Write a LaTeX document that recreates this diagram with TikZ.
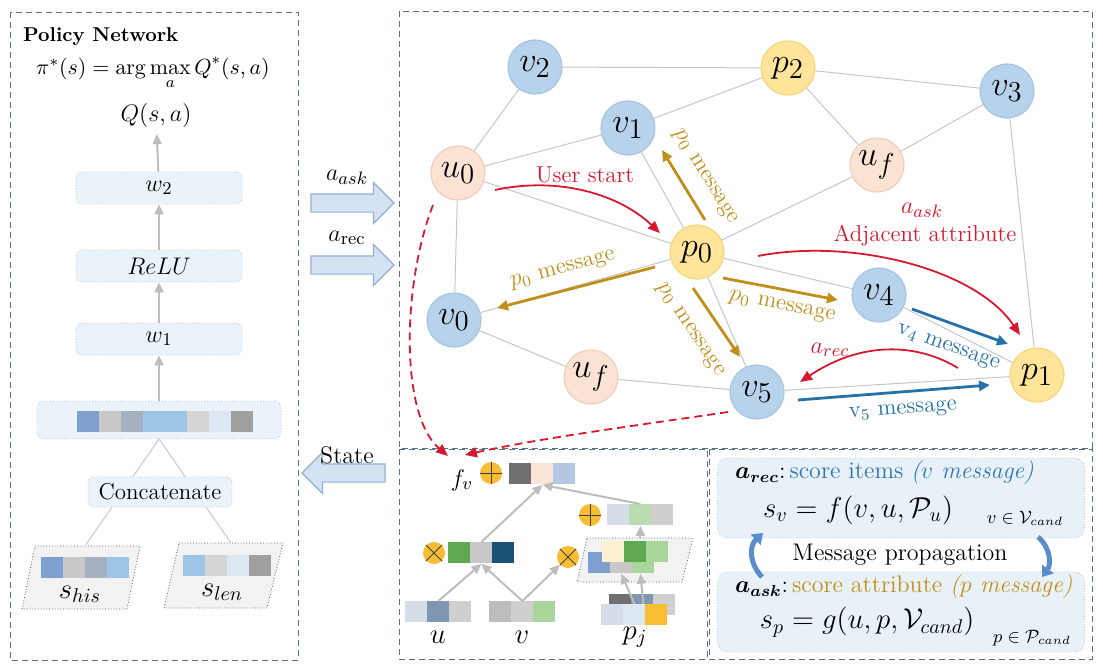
\documentclass[tikz,border=0pt]{standalone}
\usepackage{amsmath}
\usepackage{amssymb}
\usepackage{tikz}
\usetikzlibrary{positioning,shapes.geometric,shapes.arrows,arrows.meta}

\definecolor{panelline}{HTML}{5E6E84}
\definecolor{layerfill}{HTML}{EAF3FA}
\definecolor{layerline}{HTML}{AFC2D4}
\definecolor{scorefill}{HTML}{E9F1F8}
\definecolor{flowgray}{HTML}{BDBDBD}
\definecolor{feedgray}{HTML}{CFCFCF}
\definecolor{linkgray}{HTML}{C6C6C6}
\definecolor{arrowfill}{HTML}{D5E2F3}
\definecolor{arrowline}{HTML}{94AFD6}
\definecolor{itemblue}{HTML}{B7D3EC}
\definecolor{itemline}{HTML}{A6C5E2}
\definecolor{userpeach}{HTML}{FBE3D4}
\definecolor{userline}{HTML}{F2CDBA}
\definecolor{attryellow}{HTML}{FFE49A}
\definecolor{attrline}{HTML}{F5D67C}
\definecolor{msggold}{HTML}{BF8F1A}
\definecolor{msgblue}{HTML}{2472A8}
\definecolor{actred}{HTML}{D7192F}
\definecolor{scoreblue}{HTML}{2E75B6}
\definecolor{propblue}{HTML}{5B8DCB}
\definecolor{cshade}{HTML}{F2F2F2}
% vector cells
\definecolor{cblue}{HTML}{7F9FD0}
\definecolor{cgray}{HTML}{C8C8C8}
\definecolor{cslate}{HTML}{A5B0C0}
\definecolor{csky}{HTML}{9EC5E5}
\definecolor{clgray}{HTML}{D5D5D5}
\definecolor{cpale}{HTML}{DDE8F3}
\definecolor{cdgray}{HTML}{A0A0A0}
\definecolor{cdark}{HTML}{707070}
\definecolor{cpeach}{HTML}{FBE5D6}
\definecolor{cmist}{HTML}{B4C8E4}
\definecolor{cfog}{HTML}{D5DDE8}
\definecolor{cmint}{HTML}{B9DCB0}
\definecolor{csilver}{HTML}{CFCFCF}
\definecolor{cgreen}{HTML}{5EA850}
\definecolor{cnavy}{HTML}{1A5276}
\definecolor{ccream}{HTML}{FDF0D0}
\definecolor{clgreen}{HTML}{A9D69B}
\definecolor{csteel}{HTML}{7F97B3}
\definecolor{cstone}{HTML}{BDBDBD}
\definecolor{corange}{HTML}{F9BD33}

\tikzset{
  panel/.style={draw=panelline,line width=0.5pt,dash pattern=on 3pt off 2pt},
  layer/.style={draw=layerline,densely dotted,fill=layerfill,rounded corners=3pt,minimum width=83pt,minimum height=16pt,inner sep=1pt},
  slantbox/.style={draw=black!65,densely dotted,fill=cshade},
  flow/.style={draw=flowgray,line width=1pt,-{Triangle[length=5pt,width=4.5pt]}},
  feed/.style={draw=feedgray,line width=0.6pt},
  blockarrow/.style={single arrow,single arrow head extend=5.75pt,single arrow head indent=0pt,minimum height=41.5pt,inner sep=4.25pt,fill=arrowfill,draw=arrowline,line width=0.6pt},
  item/.style={circle,minimum size=27pt,inner sep=0pt,fill=itemblue,draw=itemline,line width=0.6pt,font=\fontsize{19}{22}\selectfont},
  user/.style={item,fill=userpeach,draw=userline},
  attr/.style={item,fill=attryellow,draw=attrline},
  link/.style={draw=linkgray,line width=0.5pt},
  goldmsg/.style={draw=msggold,line width=1.4pt,-{Triangle[length=5.5pt,width=5pt]}},
  bluemsg/.style={draw=msgblue,line width=1.4pt,-{Triangle[length=5.5pt,width=5pt]}},
  act/.style={draw=actred,line width=0.9pt,-{Triangle[length=6pt,width=5pt]}},
  actdash/.style={act,dash pattern=on 4pt off 2.5pt},
  msgtext/.style={font=\fontsize{11.5}{13}\selectfont,inner sep=0pt},
  opcirc/.style={circle,fill=corange,minimum size=11pt,inner sep=0pt},
  opline/.style={draw=black!75,line width=0.5pt},
  scorebox/.style={draw=layerline,densely dotted,fill=scorefill,rounded corners=5pt,minimum width=183.5pt,minimum height=40pt},
  propagate/.style={draw=propblue,line width=2.5pt,-{Triangle[length=5pt,width=7pt]}},
}

% a row of coloured cells, #1 name, #2 top left, #3 count, #4 colours
\newcommand{\cells}[4]{%
  \node[inner sep=0pt,minimum width=#3*11pt,minimum height=10.5pt,anchor=north west] (#1) at (#2) {};
  \foreach \cl [count=\i from 0] in {#4}
    \fill[\cl] ([xshift=\i*11pt]#1.north west) rectangle ++(22,21);
}
\newcommand{\addop}[2]{%
  \node[opcirc] (#1) at (#2) {};
  \draw[opline] (#1.north) -- (#1.south) (#1.west) -- (#1.east);
}
\newcommand{\mulop}[2]{%
  \node[opcirc] (#1) at (#2) {};
  \draw[opline] (#1.north west) -- (#1.south east) (#1.north east) -- (#1.south west);
}

\begin{document}
\begin{tikzpicture}[x=0.5pt,y=-0.5pt]
\useasboundingbox (0,0) rectangle (1103,669);

% policy network
\draw[panel] (10,12) rectangle (298,660);
\node[anchor=west,font=\bfseries\fontsize{10}{12}\selectfont] (title) at (16,37) {Policy Network};
\node[anchor=base,font=\fontsize{11}{13}\selectfont] (policy) at (153,74) {$\pi^{*}(s)=\displaystyle\arg\max_{a} Q^{*}(s,a)$};
\node[font=\fontsize{12}{14}\selectfont] (qsa) at (156,115) {$Q(s,a)$};
\node[layer,font=\fontsize{13}{15}\selectfont] (w2) at (159,188) {$w_2$};
\node[layer,font=\fontsize{11.5}{14}\selectfont] (relu) at (159,266) {$ReLU$};
\node[layer,font=\fontsize{13}{15}\selectfont] (w1) at (159,339) {$w_1$};
\node[layer,minimum width=122pt,minimum height=18.5pt] (state) at (159,420) {};
\cells{statecells}{77,411}{8}{cblue,cgray,cslate,csky,csky,clgray,cpale,cdgray}
\draw[slantbox] (35,546) -- (140,546) -- (127,609) -- (22,609) -- cycle;
\draw[slantbox] (179,543) -- (283,543) -- (267,608) -- (164,608) -- cycle;
\coordinate (his) at (85,546);
\coordinate (len) at (231,543);
\cells{hiscells}{41,557}{4}{cblue,cgray,cslate,csky}
\cells{lencells}{183,555}{4}{csky,clgray,cpale,cdgray}
\node[font=\fontsize{14}{16}\selectfont] (hislabel) at (80,594) {$s_{his}$};
\node[font=\fontsize{14}{16}\selectfont] (lenlabel) at (222,592) {$s_{len}$};
\draw[feed] (state.south) -- (his);
\draw[feed] (state.south) -- (len);
\node[layer,minimum width=72pt,minimum height=15pt,font=\fontsize{11.5}{13}\selectfont] (concat) at (160,492) {Concatenate};
\draw[flow] (state) -- (w1);
\draw[flow] (w1) -- (relu);
\draw[flow] (relu) -- (w2);
\draw[flow] (w2) -- (qsa);

% actions and state
\node[blockarrow] (askarrow) at (348,203) {};
\node[blockarrow] (recarrow) at (348,265) {};
\node[blockarrow,shape border rotate=180] (statearrow) at (348,473) {};
\node[font=\fontsize{13}{15}\selectfont] (asklabel) at (347,177) {$a_{ask}$};
\node[font=\fontsize{13}{15}\selectfont] (reclabel) at (347,238) {$a_{\mathrm{rec}}$};
\node[font=\fontsize{12}{14}\selectfont] (statelabel) at (347,455) {State};

% graph
\draw[panel] (399,11) rectangle (1092,448);
\draw[panel] (399,449) rectangle (707,659);
\draw[panel] (709,449) rectangle (1092,659);

\node[item] (v2) at (535,67) {$v_2$};
\node[attr] (p2) at (788,68) {$p_2$};
\node[item] (v3) at (1007,91) {$v_3$};
\node[item] (v1) at (628,128) {$v_1$};
\node[user] (u0) at (458,173) {$u_0$};
\node[user] (uf1) at (877,165) {$u_f$};
\node[attr] (p0) at (697,252) {$p_0$};
\node[item] (v0) at (454,320) {$v_0$};
\node[item] (v4) at (879,295) {$v_4$};
\node[user] (uf2) at (591,377) {$u_f$};
\node[item] (v5) at (757,392) {$v_5$};
\node[attr] (p1) at (1037,375) {$p_1$};

\foreach \a/\b in {v2/u0,v2/p2,v1/p2,v1/u0,v1/p0,p2/v3,p2/uf1,uf1/v3,uf1/p0,v3/p1,
                   u0/p0,u0/v0,p0/v0,p0/v4,p0/v5,v0/uf2,uf2/v5,v4/p1,v5/p1}
  \draw[link] (\a) -- (\b);

% messages
\coordinate (pv1s) at (705,220); \coordinate (pv1e) at (662,150);
\coordinate (pv0s) at (655,267); \coordinate (pv0e) at (497,308);
\coordinate (pv5s) at (693,288); \coordinate (pv5e) at (740,357);
\coordinate (pv4s) at (723,278); \coordinate (pv4e) at (838,300);
\coordinate (v4ps) at (912,309); \coordinate (v4pe) at (1008,344);
\coordinate (v5ps) at (798,400); \coordinate (v5pe) at (990,385);
\draw[goldmsg] (pv1s) -- (pv1e);
\draw[goldmsg] (pv0s) -- (pv0e);
\draw[goldmsg] (pv5s) -- (pv5e);
\draw[goldmsg] (pv4s) -- (pv4e);
\draw[bluemsg] (v4ps) -- (v4pe);
\draw[bluemsg] (v5ps) -- (v5pe);
\node[msgtext,text=msggold,rotate=-58] (pv1label) at (705,177) {$p_0$ message};
\node[msgtext,text=msggold,rotate=15] (pv0label) at (563,270) {$p_0$ message};
\node[msgtext,text=msggold,rotate=-56] (pv5label) at (690,330) {$p_0$ message};
\node[msgtext,text=msggold,rotate=-11] (pv4label) at (782,307) {$p_0$ message};
\node[msgtext,text=msgblue,rotate=-20] (v4plabel) at (948,348) {v$_4$ message};
\node[msgtext,text=msgblue,rotate=4] (v5plabel) at (903,411) {v$_5$ message};

% actions in graph
\coordinate (starts) at (495,190); \coordinate (starte) at (660,233);
\coordinate (adjs) at (758,256); \coordinate (adje) at (1020,335);
\coordinate (recs) at (958,368); \coordinate (rece) at (800,382);
\coordinate (fu) at (433,205); \coordinate (fue) at (448,456);
\coordinate (fv) at (728,412); \coordinate (fve) at (465,455);
\draw[act] (starts) .. controls (560,176) and (620,195) .. (starte);
\draw[act] (adjs) .. controls (850,238) and (975,268) .. (adje);
\draw[act] (recs) .. controls (915,342) and (860,342) .. (rece);
\draw[actdash] (fu) .. controls (402,285) and (400,415) .. (fue);
\draw[actdash] (fv) .. controls (640,425) and (540,438) .. (fve);
\node[font=\fontsize{11.5}{13}\selectfont,text=actred] (startlabel) at (585,175) {User start};
\node[font=\fontsize{13}{15}\selectfont,text=actred] (adjask) at (922,210) {$a_{ask}$};
\node[font=\fontsize{11.5}{13}\selectfont,text=actred] (adjlabel) at (925,236) {Adjacent attribute};
\node[font=\fontsize{13}{15}\selectfont,text=actred] (reclbl) at (830,350) {$a_{rec}$};

% item scoring
\node[font=\fontsize{13}{15}\selectfont] (fvlabel) at (462,480) {$f_v$};
\addop{sumtop}{491,473}
\cells{vtop}{509,463}{3}{cdark,cpeach,cmist}
\addop{sumright}{590,515}
\cells{vsum}{607,504}{3}{cfog,cmint,csilver}
\mulop{mulleft}{434,553}
\cells{vmul}{448,542}{3}{cgreen,cgray,cnavy}
\mulop{mulright}{568,557}
\draw[slantbox] (587,538) -- (693,538) -- (682,582) -- (577,582) -- cycle;
\coordinate (pjtop) at (640,538);
\cells{vpin}{588,552}{3}{cblue,cgray,clgreen}
\cells{vpout}{602,541}{3}{ccream,cgreen,clgreen}
\cells{vpjb}{609,594}{3}{cdark,csteel,csilver}
\cells{vpjf}{601,604}{3}{cfog,cpale,corange}
\cells{vu}{405,601}{3}{cfog,csteel,csilver}
\cells{vv}{489,601}{3}{cstone,csilver,clgreen}
\node[font=\fontsize{14}{16}\selectfont] (ulabel) at (438,637) {$u$};
\node[font=\fontsize{14}{16}\selectfont] (vlabel) at (522,637) {$v$};
\node[font=\fontsize{14}{16}\selectfont] (pjlabel) at (635,637) {$p_j$};
\draw[flow] (vu.north) -- (vmul.south);
\draw[flow] (vv.north) -- (vmul.south);
\draw[flow] (vv.north) -- (mulright);
\draw[flow] (vmul.north) -- (vtop.south);
\draw[flow] (vsum.north) -- (vtop.south);
\draw[flow] (vsum.south |- pjtop) -- (vsum.south);
\draw[flow] (vpjf.north) -- (vpin.south);
\draw[flow] ([xshift=4.5pt]vpjf.north) -- ([xshift=9.5pt]vpin.south);

% scores
\node[scorebox] (recbox) at (901,498) {};
\node[scorebox] (askbox) at (901,612) {};
\node[anchor=west,font=\fontsize{12}{14}\selectfont] (rectext) at (728,473) {$\boldsymbol{a_{rec}}$:\,\textcolor{scoreblue}{score items \textit{($v$ message)}}};
\node[font=\fontsize{14}{16}\selectfont] (sv) at (858,510) {$s_v = f(v,u,\mathcal{P}_u)$};
\node[font=\fontsize{9}{11}\selectfont] (svset) at (1025,518) {$v\in\mathcal{V}_{cand}$};
\node[font=\fontsize{12}{14}\selectfont] (mp) at (900,555) {Message propagation};
\node[anchor=west,font=\fontsize{12}{14}\selectfont] (asktext) at (728,587) {$\boldsymbol{a_{ask}}$:\,\textcolor{msggold}{score attribute \textit{($p$ message)}}};
\node[font=\fontsize{14}{16}\selectfont] (sp) at (867,622) {$s_p = g(u,p,\mathcal{V}_{cand})$};
\node[font=\fontsize{9}{11}\selectfont] (spset) at (1032,638) {$p\in\mathcal{P}_{cand}$};
\coordinate (upl) at (762,577); \coordinate (upr) at (763,533);
\coordinate (dnl) at (1038,537); \coordinate (dnr) at (1042,577);
\draw[propagate] (upl) .. controls (749,563) and (749,546) .. (upr);
\draw[propagate] (dnl) .. controls (1051,548) and (1051,565) .. (dnr);
\end{tikzpicture}
\end{document}
